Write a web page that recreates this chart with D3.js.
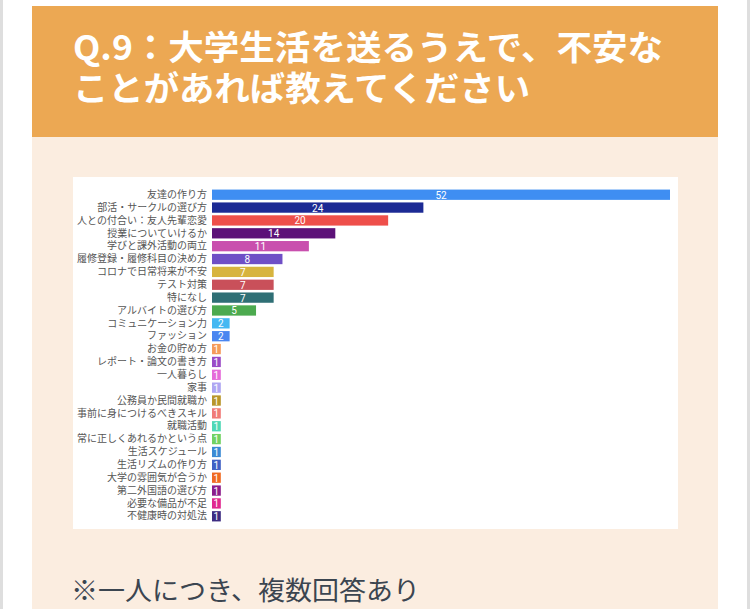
<!DOCTYPE html>
<html>
<head>
<meta charset="utf-8">
<script src="https://cdn.jsdelivr.net/npm/d3@7"></script>
<style>
  body { margin: 0; background: #fff; }
  svg { display: block; font-family: "Noto Sans CJK JP", "Noto Sans", sans-serif; }
</style>
</head>
<body>
<svg></svg>
<script>
var titleLines = ["Q.9：大学生活を送るうえで、不安な", "ことがあれば教えてください"];
var footNote = "※一人につき、複数回答あり";

var categories = [
  "友達の作り方", "部活・サークルの選び方", "人との付合い：友人先輩恋愛", "授業についていけるか",
  "学びと課外活動の両立", "履修登録・履修科目の決め方", "コロナで日常将来が不安", "テスト対策",
  "特になし", "アルバイトの選び方", "コミュニケーション力", "ファッション",
  "お金の貯め方", "レポート・論文の書き方", "一人暮らし", "家事",
  "公務員か民間就職か", "事前に身につけるべきスキル", "就職活動", "常に正しくあれるかという点",
  "生活スケジュール", "生活リズムの作り方", "大学の雰囲気が合うか", "第二外国語の選び方",
  "必要な備品が不足", "不健康時の対処法"
];
var counts = [52, 24, 20, 14, 11, 8, 7, 7, 7, 5, 2, 2, 1, 1, 1, 1, 1, 1, 1, 1, 1, 1, 1, 1, 1, 1];
var barColors = [
  "#3f8ef2", "#1c2a94", "#ee4f4a", "#5c1178", "#c94fae", "#6f4fc6", "#d7b43e", "#c9505a",
  "#2f6f75", "#4caa4f", "#45b8f2", "#4a86f0", "#f59b5a", "#9a4bc7", "#e56bd9", "#aea6f2",
  "#b8962b", "#f07b78", "#4fd8b5", "#71d262", "#3a8ad4", "#4060c4", "#f06a22", "#8c1c8c",
  "#e0278f", "#3d2c82"
];

var w = 750, h = 609;
var svg = d3.select("svg").attr("width", w).attr("height", h);

// page frame
svg.append("rect").attr("x", 0).attr("y", 0).attr("width", 3).attr("height", h).attr("fill", "#dedede");
svg.append("rect").attr("x", 747).attr("y", 0).attr("width", 3).attr("height", h).attr("fill", "#dedede");
svg.append("rect").attr("x", 32).attr("y", 137).attr("width", 686).attr("height", h - 137).attr("fill", "#fbede0");
svg.append("rect").attr("x", 32).attr("y", 6).attr("width", 686).attr("height", 131).attr("fill", "#eca853");

// title, squeezed to the widths seen in the reference
var titleWidths = [590, 457];
svg.selectAll(".title")
  .data(titleLines)
  .enter()
  .append("text")
  .attr("class", "title")
  .attr("x", 73)
  .attr("y", function(d, i) { return 60 + i * 41; })
  .attr("fill", "#fff")
  .attr("font-size", 34)
  .attr("font-weight", "bold")
  .attr("textLength", function(d, i) { return titleWidths[i]; })
  .attr("lengthAdjust", "spacingAndGlyphs")
  .text(function(d) { return d; });

// chart box
svg.append("rect").attr("x", 73).attr("y", 177).attr("width", 605).attr("height", 352).attr("fill", "#fff");

var xscale = d3.scaleLinear().domain([0, 52]).range([212, 670]);
var yscale = d3.scaleBand().domain(categories).range([187, 524]).padding(0.2);

var yAxis = d3.axisLeft(yscale).tickSize(0).tickPadding(4);
var gy = svg.append("g").attr("transform", "translate(211,0)").call(yAxis);
gy.select(".domain").remove();
gy.selectAll("text")
  .attr("font-family", "Noto Sans CJK JP")
  .attr("font-size", 10)
  .attr("fill", "#555");

var rows = svg.selectAll(".bar")
  .data(categories)
  .enter()
  .append("g")
  .attr("class", "bar");

rows.append("rect")
  .attr("x", xscale(0))
  .attr("y", function(d) { return yscale(d); })
  .attr("width", function(d, i) { return xscale(counts[i]) - xscale(0); })
  .attr("height", yscale.bandwidth())
  .attr("fill", function(d, i) { return barColors[i]; });

rows.append("text")
  .attr("x", function(d, i) { return (xscale(counts[i]) + xscale(0)) / 2; })
  .attr("y", function(d) { return yscale(d) + yscale.bandwidth() / 2 + 4; })
  .attr("text-anchor", "middle")
  .attr("font-family", "Roboto")
  .attr("font-size", 10)
  .attr("fill", "#fff")
  .text(function(d, i) { return counts[i]; });

svg.append("text")
  .attr("x", 71)
  .attr("y", 600)
  .attr("font-size", 26)
  .attr("fill", "#3b4550")
  .attr("textLength", 349)
  .attr("lengthAdjust", "spacingAndGlyphs")
  .text(footNote);
</script>
</body>
</html>
